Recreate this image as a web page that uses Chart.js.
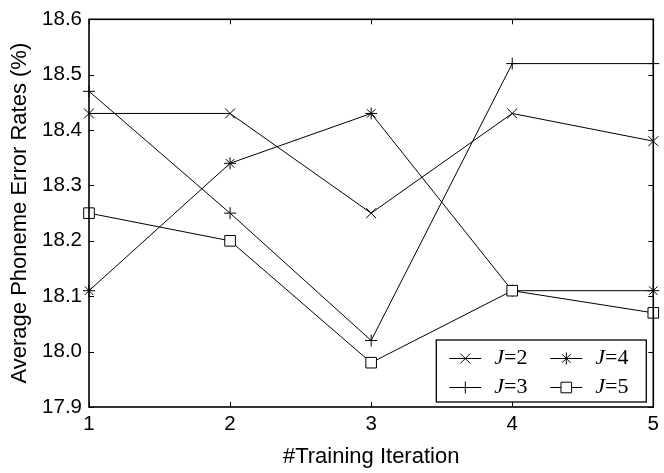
<!DOCTYPE html>
<html>
<head>
<meta charset="utf-8">
<script src="https://cdn.jsdelivr.net/npm/chart.js@4/dist/chart.umd.min.js"></script>
<style>
  body { margin: 0; background: #fff; }
  #wrap { width: 664px; height: 473px; }
</style>
</head>
<body>
<div id="wrap"><canvas id="errChart" width="664" height="473"></canvas></div>
<script>
// values
const iterations = ["1", "2", "3", "4", "5"];
const j2 = [18.43, 18.43, 18.25, 18.43, 18.38];
const j3 = [18.47, 18.25, 18.02, 18.52, 18.52];
const j4 = [18.11, 18.34, 18.43, 18.11, 18.11];
const j5 = [18.25, 18.20, 17.98, 18.11, 18.07];
const yTicks = [17.9, 18.0, 18.1, 18.2, 18.3, 18.4, 18.5, 18.6];

const sansFont = "'Liberation Sans', Arial, sans-serif";
const serifFont = "'Liberation Serif', 'Times New Roman', serif";

function series(label, values, style, radius, order) {
    return {
        label: label,
        data: values,
        borderColor: "#000",
        borderWidth: 1,
        pointStyle: style,
        pointRadius: radius,
        pointBorderColor: "#000",
        pointBackgroundColor: "#fff",
        pointBorderWidth: 1,
        tension: 0,
        fill: false,
        clip: false,
        order: order
    };
}

// small helper for the legend markers
function drawMarker(ctx, style, x, y, r) {
    ctx.save();
    ctx.strokeStyle = "#000";
    ctx.fillStyle = "#fff";
    ctx.lineWidth = 1;
    ctx.beginPath();
    if (style === "crossRot" || style === "star") {
        const d = r * Math.SQRT1_2;
        ctx.moveTo(x - d, y - d); ctx.lineTo(x + d, y + d);
        ctx.moveTo(x - d, y + d); ctx.lineTo(x + d, y - d);
    }
    if (style === "cross" || style === "star") {
        ctx.moveTo(x - r, y); ctx.lineTo(x + r, y);
        ctx.moveTo(x, y - r); ctx.lineTo(x, y + r);
    }
    if (style === "rect") {
        const s = r * Math.SQRT1_2;
        ctx.rect(x - s, y - s, 2 * s, 2 * s);
        ctx.fill();
    }
    ctx.stroke();
    ctx.restore();
}

// MATLAB-like frame: box plus inward ticks, and the inset legend
const framePlugin = {
    id: "frame",
    afterDraw(chart) {
        const ctx = chart.ctx;
        const ca = chart.chartArea;
        const xs = chart.scales.x;
        const ys = chart.scales.y;
        const tl = 5;

        ctx.save();
        ctx.strokeStyle = "#000";
        ctx.lineWidth = 1;
        ctx.beginPath();
        iterations.forEach((v, i) => {
            const px = Math.round(xs.getPixelForValue(i)) + 0.5;
            ctx.moveTo(px, ca.bottom); ctx.lineTo(px, ca.bottom - tl);
            ctx.moveTo(px, ca.top); ctx.lineTo(px, ca.top + tl);
        });
        yTicks.forEach(v => {
            const py = Math.round(ys.getPixelForValue(v)) + 0.5;
            ctx.moveTo(ca.left, py); ctx.lineTo(ca.left + tl, py);
            ctx.moveTo(ca.right, py); ctx.lineTo(ca.right - tl, py);
        });
        ctx.stroke();

        ctx.lineWidth = 1.6;
        ctx.strokeRect(ca.left, ca.top, ca.right - ca.left, ca.bottom - ca.top);

        // legend box
        const bw = 210, bh = 62;
        const bx = ca.right - 7 - bw;
        const by = ca.bottom - 5 - bh;
        ctx.fillStyle = "#fff";
        ctx.fillRect(bx, by, bw, bh);
        ctx.lineWidth = 1.3;
        ctx.strokeRect(bx, by, bw, bh);

        const entries = [
            { n: "=2", style: "crossRot", r: 7, col: 0, row: 0 },
            { n: "=4", style: "star", r: 6, col: 1, row: 0 },
            { n: "=3", style: "cross", r: 6, col: 0, row: 1 },
            { n: "=5", style: "rect", r: 7.5, col: 1, row: 1 }
        ];
        entries.forEach(e => {
            const x0 = bx + 13 + e.col * 101;
            const y0 = by + 18 + e.row * 29;
            ctx.lineWidth = 1;
            ctx.beginPath();
            ctx.moveTo(x0, y0 + 0.5);
            ctx.lineTo(x0 + 32, y0 + 0.5);
            ctx.stroke();
            drawMarker(ctx, e.style, x0 + 16, y0 + 0.5, e.r);

            ctx.fillStyle = "#000";
            ctx.textBaseline = "middle";
            ctx.textAlign = "left";
            ctx.font = "italic 22px " + serifFont;
            const tx = x0 + 45;
            ctx.fillText("J", tx, y0);
            const jw = ctx.measureText("J").width;
            ctx.font = "22px " + serifFont;
            ctx.fillText(e.n, tx + jw, y0);
        });
        ctx.restore();
    }
};

const ctx = document.getElementById("errChart").getContext("2d");
const errChart = new Chart(ctx, {
    type: "line",
    data: {
        labels: iterations,
        datasets: [
            series("J=2", j2, "crossRot", 7, 2),
            series("J=3", j3, "cross", 6, 3),
            series("J=4", j4, "star", 6, 1),
            series("J=5", j5, "rect", 7.5, 0)
        ]
    },
    options: {
        responsive: false,
        animation: false,
        devicePixelRatio: 1,
        layout: { padding: { top: 18, right: 7, left: 0, bottom: 0 } },
        plugins: {
            legend: { display: false },
            tooltip: { enabled: false }
        },
        scales: {
            x: {
                type: "category",
                offset: false,
                grid: { display: false, drawTicks: false },
                border: { display: false },
                ticks: {
                    color: "#000",
                    padding: 5,
                    maxRotation: 0,
                    font: { family: sansFont, size: 20.5 }
                },
                title: {
                    display: true,
                    text: "#Training Iteration",
                    color: "#000",
                    font: { family: sansFont, size: 22 },
                    padding: { top: 0, bottom: 3 }
                },
                afterFit(scale) { scale.height = 66; }
            },
            y: {
                min: 17.9,
                max: 18.6,
                grid: { display: false, drawTicks: false },
                border: { display: false },
                afterBuildTicks(scale) {
                    scale.ticks = yTicks.map(v => ({ value: v }));
                },
                ticks: {
                    color: "#000",
                    padding: 7,
                    font: { family: sansFont, size: 20.5 },
                    callback: v => Number(v).toFixed(1)
                },
                title: {
                    display: true,
                    text: "Average Phoneme Error Rates (%)",
                    color: "#000",
                    font: { family: sansFont, size: 22 },
                    padding: { top: 7, bottom: 0 }
                },
                afterFit(scale) { scale.width = 89; }
            }
        }
    },
    plugins: [framePlugin]
});
</script>
</body>
</html>
